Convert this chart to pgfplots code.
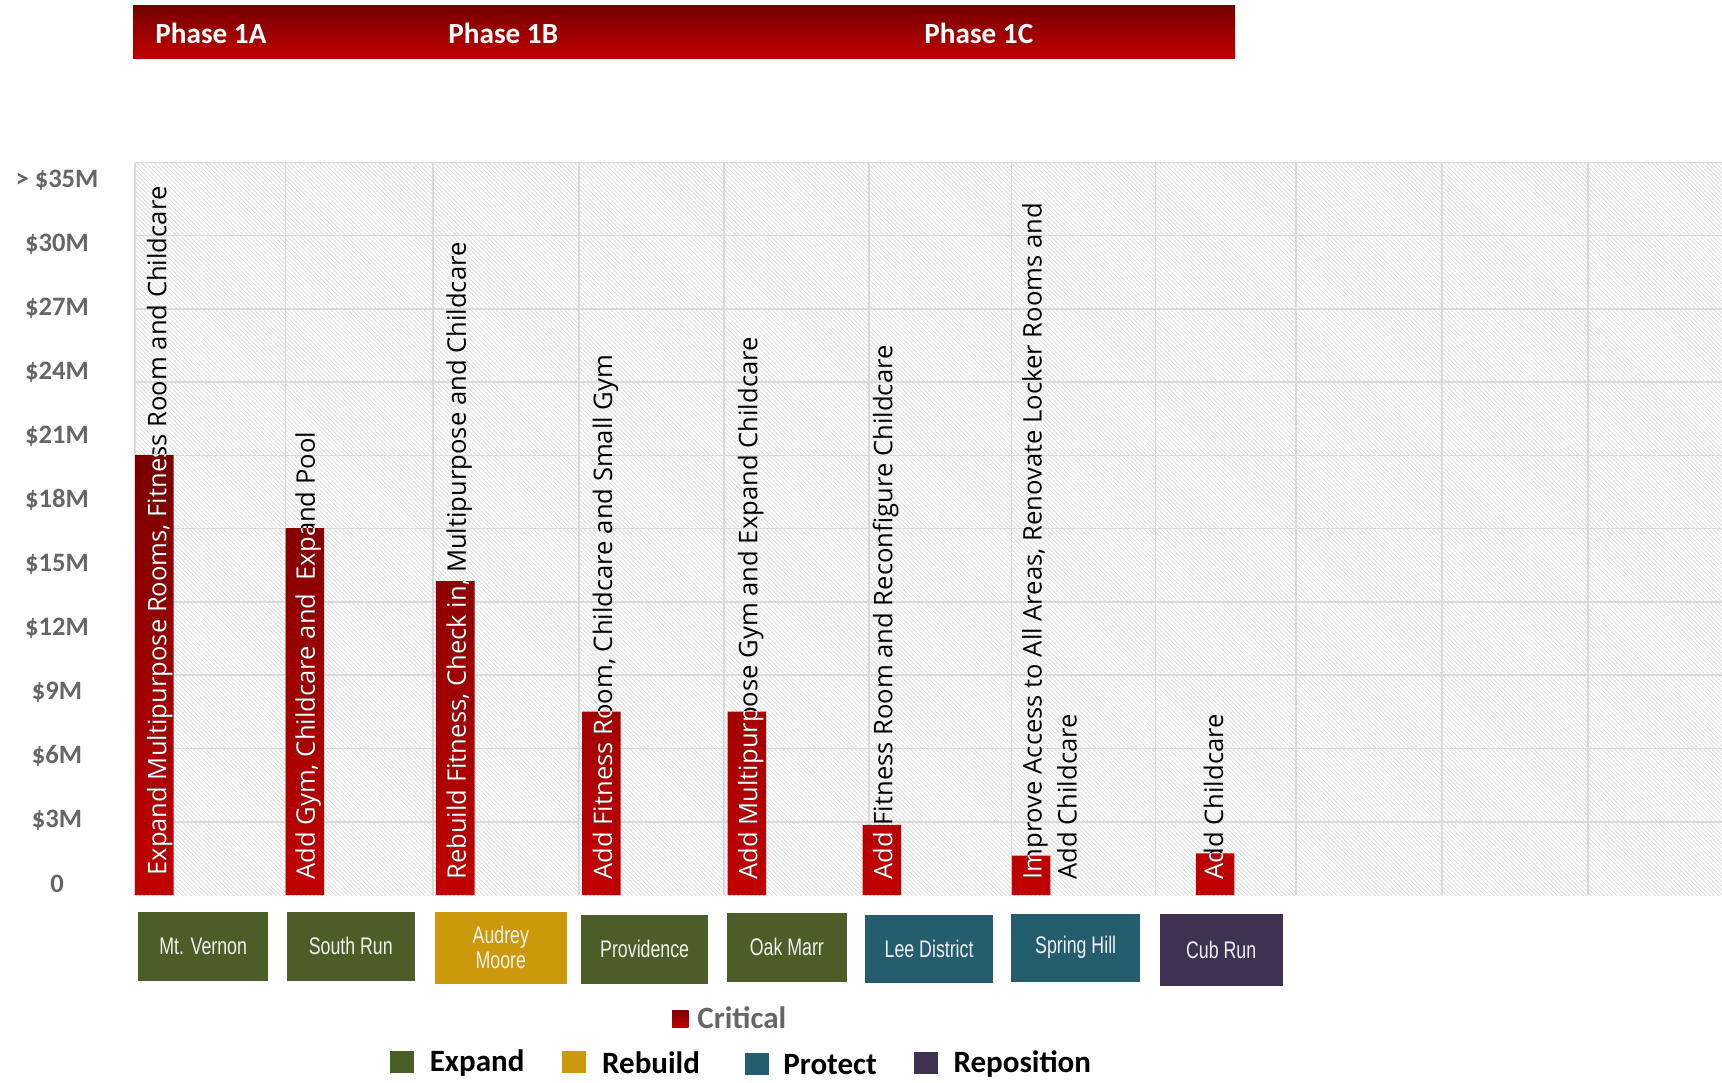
\documentclass[border=0pt]{standalone}
\usepackage{pgfplots}
\pgfplotsset{compat=1.18}
\usetikzlibrary{patterns.meta,calc}
\usepackage{fontspec}
\setmainfont{Carlito}
\newfontfamily\barfont{Open Sans}
\newfontfamily\narrowfont[FakeStretch=0.74]{Liberation Sans}
\definecolor{critTop}{HTML}{7A0000}
\definecolor{critBot}{HTML}{C20000}
\definecolor{expandc}{HTML}{4C5E27}
\definecolor{rebuildc}{HTML}{CC990C}
\definecolor{protectc}{HTML}{235D6E}
\definecolor{repositionc}{HTML}{3F3151}
\definecolor{ticklbl}{HTML}{666666}
\definecolor{gridc}{HTML}{DADADA}
\definecolor{hatchc}{HTML}{DCDCDC}

\newcommand\barcoords[3]{%
  \coordinate (P#1) at (axis cs:#2,0);
  \coordinate (A#1) at (axis cs:#2-0.1325,0);
  \coordinate (B#1) at (axis cs:#2+0.1325,#3);}

\tikzset{blbl/.style={rotate=90, anchor=base west, inner sep=0pt,
    font=\barfont\fontsize{12.8}{15}\selectfont}}
\newcommand\twotone[3]{%
  \node[blbl, text=black] at ($(P#1)+(#2)$) {#3};
  \begin{scope}
    \clip (A#1) rectangle (B#1);
    \node[blbl, text=white] at ($(P#1)+(#2)$) {#3};
  \end{scope}}

\newcommand\catbox[6]{%
  \fill[#5] (#1,#2) rectangle (#3,#4);
  \node[text=white!94!black, font=\narrowfont\fontsize{12}{12.6}\selectfont,
        align=center, inner sep=0pt] at ($(#1,#2)!0.5!(#3,#4)$) {#6};}

\begin{document}
\begin{tikzpicture}[x=0.5pt,y=-0.5pt]
\path[use as bounding box] (0,0) rectangle (1722,1082);

% phase banner
\shade[top color=critTop!95!black, bottom color=critBot] (133,5.5) rectangle (1235,58);
\foreach \px/\lab in {155/Phase 1A, 448/Phase 1B, 924/Phase 1C}
  \node[anchor=west, inner sep=0pt, text=white,
        font=\bfseries\fontsize{14.6}{17}\selectfont] at (\px,33) {\lab};

\coordinate (O) at (135,895);
\begin{axis}[
  at={(O)}, anchor=south west, scale only axis,
  width=793.5pt, height=366.25pt,
  xmin=0, xmax=10.922, ymin=0, ymax=34.33,
  axis line style={draw=none},
  axis background/.style={pattern={Lines[angle=-45,distance=1.5pt,line width=0.4pt]}, pattern color=hatchc},
  xtick=\empty,
  extra x ticks={0,1.036,2.049,3.054,4.052,5.050,6.032,7.022,7.990,8.995,10.0},
  extra x tick labels={},
  extra x tick style={grid=major, major grid style={draw=gridc, line width=0.8pt}},
  ytick={0,3,...,33},
  yticklabels={0,\$3M,\$6M,\$9M,\$12M,\$15M,\$18M,\$21M,\$24M,\$27M,\$30M,{> \$35M}},
  yticklabel style={font=\bfseries\fontsize{13.3}{16}\selectfont, text=ticklbl,
                    anchor=center, xshift=-39pt, yshift=5.5pt},
  major tick length=0pt, minor tick length=0pt,
  minor ytick={3.433,6.866,10.30,13.73,17.17,20.60,24.03,27.47,30.90,34.33},
  yminorgrids,
  minor grid style={draw=gridc, line width=0.8pt},
]
\addplot[ybar, bar width=0.265, draw=none, top color=critTop, bottom color=critBot]
  coordinates {(0.133,20.63) (1.169,17.19) (2.204,14.71) (3.209,8.59)
               (4.211,8.59) (5.140,3.29) (6.168,1.85) (7.434,1.95)};
\barcoords{1}{0.133}{20.63}
\barcoords{2}{1.169}{17.19}
\barcoords{3}{2.204}{14.71}
\barcoords{4}{3.209}{8.59}
\barcoords{5}{4.211}{8.59}
\barcoords{6}{5.140}{3.29}
\barcoords{7}{6.168}{1.85}
\barcoords{8}{7.434}{1.95}
\end{axis}

% rotated labels (white on bar, black above)
\twotone{1}{6pt,9.5pt}{Expand Multipurpose Rooms, Fitness Room and Childcare}
\twotone{2}{5pt,7.5pt}{Add Gym, Childcare and \ Expand Pool}
\twotone{3}{5.3pt,7.5pt}{Rebuild Fitness, Check in, Multipurpose and Childcare}
\twotone{4}{5.4pt,7.5pt}{Add Fitness Room, Childcare and Small Gym}
\twotone{5}{5.3pt,7.5pt}{Add Multipurpose Gym and Expand Childcare}
\twotone{6}{5.3pt,7.5pt}{Add Fitness Room and Reconfigure Childcare}
\twotone{7}{5.2pt,7.5pt}{Improve Access to All Areas, Renovate Locker Rooms and}
\twotone{7}{22.7pt,7.5pt}{Add Childcare}
\twotone{8}{4pt,7.5pt}{Add Childcare}

% category boxes
\catbox{138.4}{911.5}{268}{980.7}{expandc}{Mt. Vernon}
\catbox{286.6}{911.5}{415}{980.7}{expandc}{South Run}
\catbox{434.9}{911.5}{566.7}{984}{rebuildc}{Audrey\\Moore}
\catbox{581}{914.8}{708.3}{984}{expandc}{Providence}
\catbox{727}{912.6}{846.7}{981.8}{expandc}{Oak Marr}
\catbox{865.4}{914.8}{992.8}{982.9}{protectc}{Lee District}
\catbox{1011.4}{913.7}{1140}{981.8}{protectc}{Spring Hill}
\catbox{1159.7}{913.7}{1282.7}{986.2}{repositionc}{Cub Run}

% legend
\shade[top color=critTop, bottom color=critBot] (672,1010) rectangle (688.6,1027);
\node[anchor=west, inner sep=0pt, text=ticklbl, font=\bfseries\fontsize{15.5}{18}\selectfont] at (697,1018) {Critical};
\fill[expandc] (389.9,1051) rectangle (414,1073);
\node[anchor=west, inner sep=0pt, font=\bfseries\fontsize{15.5}{18}\selectfont] at (429.4,1063) {Expand};
\fill[rebuildc] (562.3,1051) rectangle (586.4,1073);
\node[anchor=west, inner sep=0pt, font=\bfseries\fontsize{15.5}{18}\selectfont] at (601.8,1063) {Rebuild};
\fill[protectc] (744.6,1053) rectangle (768.7,1075);
\node[anchor=west, inner sep=0pt, font=\bfseries\fontsize{15.5}{18}\selectfont] at (783,1065) {Protect};
\fill[repositionc] (913.7,1052) rectangle (937.9,1074);
\node[anchor=west, inner sep=0pt, font=\bfseries\fontsize{15.5}{18}\selectfont] at (953.2,1064) {Reposition};
\end{tikzpicture}
\end{document}
